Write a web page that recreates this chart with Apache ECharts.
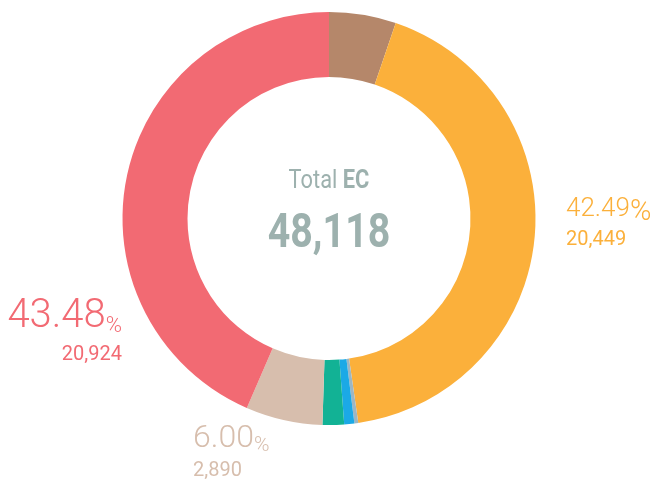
<!DOCTYPE html>
<html>
<head>
<meta charset="utf-8">
<script src="https://cdn.jsdelivr.net/npm/echarts@6/dist/echarts.min.js"></script>
<style>
  html, body { margin: 0; padding: 0; background: #ffffff; }
  #chart { width: 651px; height: 482px; }
</style>
</head>
<body>
<div id="chart"></div>
<script>
// Segment data, clockwise from twelve o'clock
const categories = ['Brown', 'Orange', 'Grey', 'Blue', 'Teal', 'Beige', 'Red'];
const values = [2520, 20449, 145, 380, 810, 2890, 20924];
const colors = ['#b5876a', '#fbb03b', '#9db6c2', '#1ba9e6', '#12b295', '#d7bead', '#f26a73'];
const labelled = ['Orange', 'Beige', 'Red'];

const total = values.reduce((a, b) => a + b, 0);
const fmt = n => n.toLocaleString('en-US');
// percentages shown truncated to two decimals
const pct = v => (Math.floor(v / total * 10000) / 100).toFixed(2);

const FONT = 'Roboto';

// label placement per labelled slice
const labelPlace = {
  Orange: { x: 566, y: 192, align: 'left' },
  Beige:  { x: 193, y: 420, align: 'left' },
  Red:    { x: 122, y: 293, align: 'right' }
};
const labelStyle = {
  Orange: { big: 26, pc: 29, val: 20, bigLH: 35, valLH: 26 },
  Beige:  { big: 32, pc: 21, val: 20, bigLH: 38, valLH: 26 },
  Red:    { big: 40, pc: 22, val: 20, bigLH: 48, valLH: 28 }
};

const data = categories.map((name, i) => {
  const item = { name, value: values[i], itemStyle: { color: colors[i] } };
  if (labelled.includes(name)) {
    const st = labelStyle[name];
    const drop = st.pc < st.big ? Math.round((st.big - st.pc) * 0.2) : 0;
    item.label = {
      show: true,
      formatter: () => '{p|' + pct(values[i]) + '}{s|%}\n{v|' + fmt(values[i]) + '}',
      align: labelPlace[name].align,
      rich: {
        p: { fontFamily: FONT, fontWeight: 300, fontSize: st.big, lineHeight: st.bigLH, color: colors[i], align: labelPlace[name].align },
        s: { fontFamily: FONT, fontWeight: 300, fontSize: st.pc, lineHeight: st.bigLH, color: colors[i], verticalAlign: 'bottom', padding: [0, 0, drop, 0] },
        v: { fontFamily: FONT, fontWeight: 400, fontSize: st.val, lineHeight: st.valLH, color: colors[i], align: labelPlace[name].align }
      }
    };
  } else {
    item.label = { show: false };
  }
  return item;
});

const chart = echarts.init(document.getElementById('chart'), null, { renderer: 'canvas' });
chart.setOption({
  animation: false,
  backgroundColor: '#ffffff',
  graphic: [
    {
      // centre caption, horizontally condensed
      type: 'text',
      x: 329,
      y: 168,
      scaleX: 0.84,
      style: {
        x: 0, y: 0,
        text: 'Total {b|EC}',
        textAlign: 'center',
        fontFamily: FONT,
        fontSize: 26,
        fill: '#9db1ae',
        rich: { b: { fontFamily: FONT, fontWeight: 'bold', fontSize: 26, fill: '#9db1ae' } }
      }
    },
    {
      type: 'text',
      x: 329,
      y: 211,
      scaleX: 0.82,
      style: {
        x: 0, y: 0,
        text: fmt(total),
        textAlign: 'center',
        fontFamily: FONT,
        fontWeight: 'bold',
        fontSize: 48,
        fill: '#9db1ae'
      }
    }
  ],
  series: [{
    type: 'pie',
    center: [329, 218.5],
    radius: [141.5, 206.5],
    startAngle: 90,
    clockwise: true,
    avoidLabelOverlap: false,
    silent: true,
    label: { position: 'outside' },
    labelLine: { show: false },
    labelLayout: function (params) {
      const name = categories[params.dataIndex];
      const p = labelPlace[name];
      if (!p) return {};
      return { x: p.x, y: p.y, align: p.align, verticalAlign: 'top' };
    },
    itemStyle: { borderWidth: 0 },
    data: data
  }]
});
</script>
</body>
</html>
